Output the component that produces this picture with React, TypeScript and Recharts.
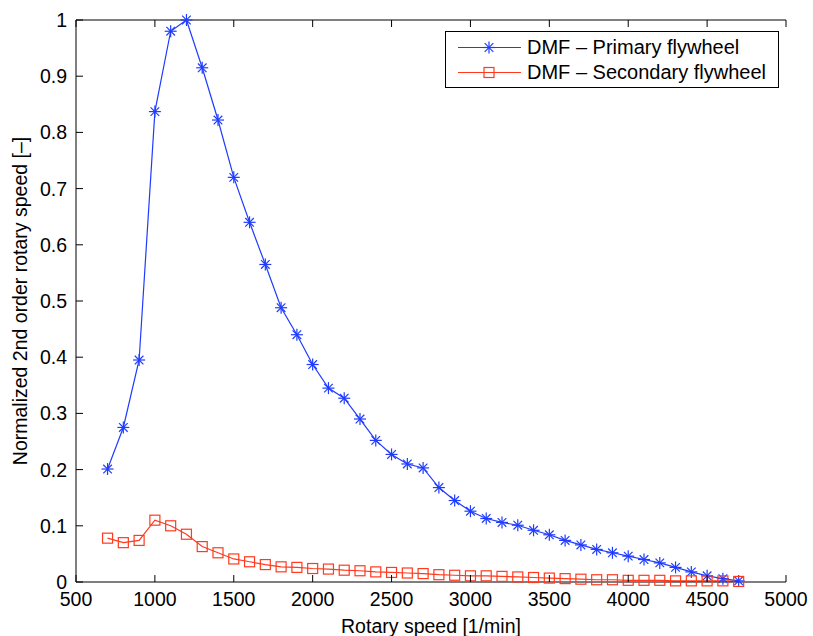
import { CartesianGrid, Legend, Line, LineChart, XAxis, YAxis } from 'recharts';

const speeds = [
  700, 800, 900, 1000, 1100, 1200, 1300, 1400, 1500, 1600, 1700, 1800, 1900, 2000, 2100, 2200, 2300, 2400,
  2500, 2600, 2700, 2800, 2900, 3000, 3100, 3200, 3300, 3400, 3500, 3600, 3700, 3800, 3900, 4000, 4100,
  4200, 4300, 4400, 4500, 4600, 4700
];

const primary = [
  0.201, 0.275, 0.395, 0.837, 0.98, 1.0, 0.915, 0.822, 0.72, 0.64, 0.565, 0.488, 0.44, 0.387, 0.345, 0.327,
  0.29, 0.252, 0.227, 0.21, 0.203, 0.168, 0.145, 0.126, 0.113, 0.106, 0.101, 0.092, 0.084, 0.074, 0.066,
  0.058, 0.052, 0.046, 0.04, 0.034, 0.026, 0.018, 0.011, 0.006, 0.002
];

const secondary = [
  0.078, 0.07, 0.074, 0.11, 0.1, 0.085, 0.063, 0.052, 0.041, 0.036, 0.031, 0.027, 0.026, 0.024, 0.023, 0.021,
  0.02, 0.018, 0.017, 0.016, 0.015, 0.013, 0.012, 0.011, 0.011, 0.01, 0.009, 0.008, 0.007, 0.006, 0.005,
  0.004, 0.004, 0.003, 0.003, 0.003, 0.002, 0.002, 0.002, 0.002, 0.001
];

const xTicks = [500, 1000, 1500, 2000, 2500, 3000, 3500, 4000, 4500, 5000];
const yTicks = [0, 0.1, 0.2, 0.3, 0.4, 0.5, 0.6, 0.7, 0.8, 0.9, 1];

const data = speeds.map((s, i) => ({ speed: s, primary: primary[i], secondary: secondary[i] }));

const BLUE = '#1f3cff';
const RED = '#ff3a1e';
const FONT = '"Liberation Sans", Arial, sans-serif';
const FS = 19.5;
const XTM = 10;
const YTM = 9;

function XTick(props: any) {
  const { x, y, payload } = props;
  return (
    <g>
      <line x1={x} x2={x} y1={y - XTM} y2={y - XTM - 7} stroke="#000" />
      <text x={x} y={y} dy="0.74em" textAnchor="middle" fontSize={FS} fontFamily={FONT} fill="#000">
        {payload.value}
      </text>
    </g>
  );
}

function YTick(props: any) {
  const { x, y, payload } = props;
  return (
    <g>
      <line x1={x + YTM} x2={x + YTM + 7} y1={y} y2={y} stroke="#000" />
      <text x={x} y={y} dy="0.36em" textAnchor="end" fontSize={FS} fontFamily={FONT} fill="#000">
        {payload.value}
      </text>
    </g>
  );
}

function Star(props: any) {
  const { cx, cy, stroke } = props;
  if (cx == null || cy == null) return null;
  const r = 6;
  const d = 4.3;
  return (
    <g stroke={stroke} strokeWidth={1.2}>
      <line x1={cx - r} x2={cx + r} y1={cy} y2={cy} />
      <line x1={cx} x2={cx} y1={cy - r} y2={cy + r} />
      <line x1={cx - d} x2={cx + d} y1={cy - d} y2={cy + d} />
      <line x1={cx - d} x2={cx + d} y1={cy + d} y2={cy - d} />
    </g>
  );
}

function Square(props: any) {
  const { cx, cy, stroke } = props;
  if (cx == null || cy == null) return null;
  return <rect x={cx - 5} y={cy - 5} width={10} height={10} fill="none" stroke={stroke} strokeWidth={1.2} />;
}

function LegendBox() {
  const rows = [
    { label: 'DMF \u2013 Primary flywheel', color: BLUE, star: true },
    { label: 'DMF \u2013 Secondary flywheel', color: RED, star: false }
  ];
  return (
    <div
      style={{
        border: '1px solid #000',
        background: '#fff',
        width: 334,
        height: 57,
        boxSizing: 'border-box',
        paddingTop: 3,
        fontFamily: FONT,
        fontSize: 20
      }}
    >
      {rows.map((r) => (
        <div key={r.label} style={{ display: 'flex', alignItems: 'center', height: 25 }}>
          <svg width={81} height={25}>
            <line x1={12} x2={75} y1={12.5} y2={12.5} stroke={r.color} />
            {r.star ? <Star cx={43} cy={12.5} stroke={r.color} /> : <Square cx={43} cy={12.5} stroke={r.color} />}
          </svg>
          <span style={{ color: '#000', lineHeight: '25px' }}>{r.label}</span>
        </div>
      ))}
    </div>
  );
}

export default function App() {
  return (
    <div style={{ position: 'absolute', left: 0, top: 0, background: '#fff' }}>
      <LineChart width={813} height={636} data={data} margin={{ top: 20, right: 27, bottom: 0, left: 0 }}>
        <CartesianGrid stroke="none" />
        <XAxis
          dataKey="speed"
          type="number"
          domain={[500, 5000]}
          ticks={xTicks}
          tickSize={0}
          tickMargin={XTM}
          tick={<XTick />}
          height={54}
          stroke="#000"
          label={{ value: 'Rotary speed [1/min]', position: 'insideBottom', offset: 3, fontSize: FS, fontFamily: FONT, fill: '#000' }}
        />
        <XAxis
          xAxisId="top"
          orientation="top"
          dataKey="speed"
          type="number"
          domain={[500, 5000]}
          ticks={xTicks}
          mirror
          tickSize={7}
          tickFormatter={() => ''}
          stroke="#000"
        />
        <YAxis
          type="number"
          domain={[0, 1]}
          ticks={yTicks}
          tickSize={0}
          tickMargin={YTM}
          tick={<YTick />}
          width={76}
          stroke="#000"
          label={{
            value: 'Normalized 2nd order rotary speed [\u2013]',
            angle: -90,
            position: 'center',
            dx: -18,
            fontSize: FS,
            fontFamily: FONT,
            fill: '#000'
          }}
        />
        <YAxis
          yAxisId="right"
          orientation="right"
          type="number"
          domain={[0, 1]}
          ticks={yTicks}
          mirror
          tickSize={7}
          tickFormatter={() => ''}
          width={0}
          stroke="#000"
        />
        <Legend
          layout="horizontal"
          verticalAlign="middle"
          align="center"
          content={<LegendBox />}
          wrapperStyle={{ position: 'absolute', left: 445, top: 31, width: 334 }}
        />
        <Line
          type="linear"
          dataKey="primary"
          stroke={BLUE}
          strokeWidth={1.2}
          dot={<Star stroke={BLUE} />}
          isAnimationActive={false}
        />
        <Line
          type="linear"
          dataKey="secondary"
          stroke={RED}
          strokeWidth={1.2}
          dot={<Square stroke={RED} />}
          isAnimationActive={false}
        />
      </LineChart>
    </div>
  );
}
